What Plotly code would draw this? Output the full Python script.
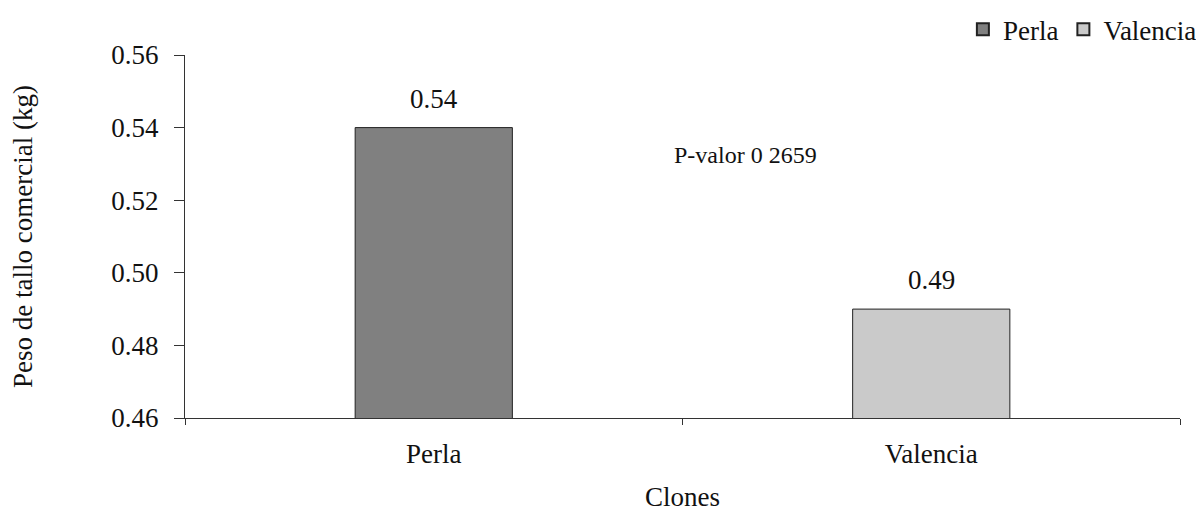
import plotly.graph_objects as go

categories = ["Perla", "Valencia"]
values = [0.54, 0.49]
colors = ["#808080", "#CACACA"]
value_labels = ["0.54", "0.49"]
y_ticks = [0.46, 0.48, 0.50, 0.52, 0.54, 0.56]
p_text = "P-valor 0 2659"

FONT = "Liberation Serif, Times New Roman, serif"
FS = 27

fig = go.Figure()
for cat, val, col, lab in zip(categories, values, colors, value_labels):
    fig.add_trace(go.Bar(
        x=[cat], y=[val], name=cat,
        marker=dict(color=col, line=dict(color="#222222", width=1)),
        width=0.316,
        cliponaxis=False,
    ))
    fig.add_annotation(
        x=cat, y=val, xref="x", yref="y", text=lab, showarrow=False,
        yanchor="bottom", yshift=12,
        font=dict(family=FONT, size=FS, color="#111111"),
    )

fig.add_annotation(
    x=0.563, y=0.5325, xref="paper", yref="y",
    text=p_text, showarrow=False,
    font=dict(family=FONT, size=24, color="#111111"),
)

fig.update_layout(
    width=1196, height=504,
    margin=dict(l=177, r=24, t=47, b=94, autoexpand=False),
    paper_bgcolor="white", plot_bgcolor="white",
    barmode="overlay",
    font=dict(family=FONT, size=FS, color="#111111"),
    legend=dict(
        orientation="h", x=1.022, xanchor="right", y=1.07, yanchor="middle",
        font=dict(family=FONT, size=FS), itemsizing="constant",
        bgcolor="rgba(0,0,0,0)", traceorder="normal",
        itemwidth=30,
    ),
)

fig.update_xaxes(
    showline=True, linecolor="#333333", linewidth=1,
    ticks="outside", ticklen=6, tickcolor="#333333",
    tickson="boundaries", showgrid=False,
    ticklabelstandoff=12,
    title=dict(text="Clones", font=dict(family=FONT, size=FS), standoff=20),
    tickfont=dict(family=FONT, size=FS),
)
fig.update_yaxes(
    range=[0.46, 0.56], tickvals=y_ticks, tickformat=".2f",
    showline=True, linecolor="#333333", linewidth=1,
    ticks="outside", ticklen=10, tickcolor="#333333",
    showgrid=False, zeroline=False,
    ticklabelstandoff=10,
    title=dict(text="Peso de tallo comercial (kg)", font=dict(family=FONT, size=FS), standoff=78),
    tickfont=dict(family=FONT, size=FS),
)

fig.write_html("out.html")
